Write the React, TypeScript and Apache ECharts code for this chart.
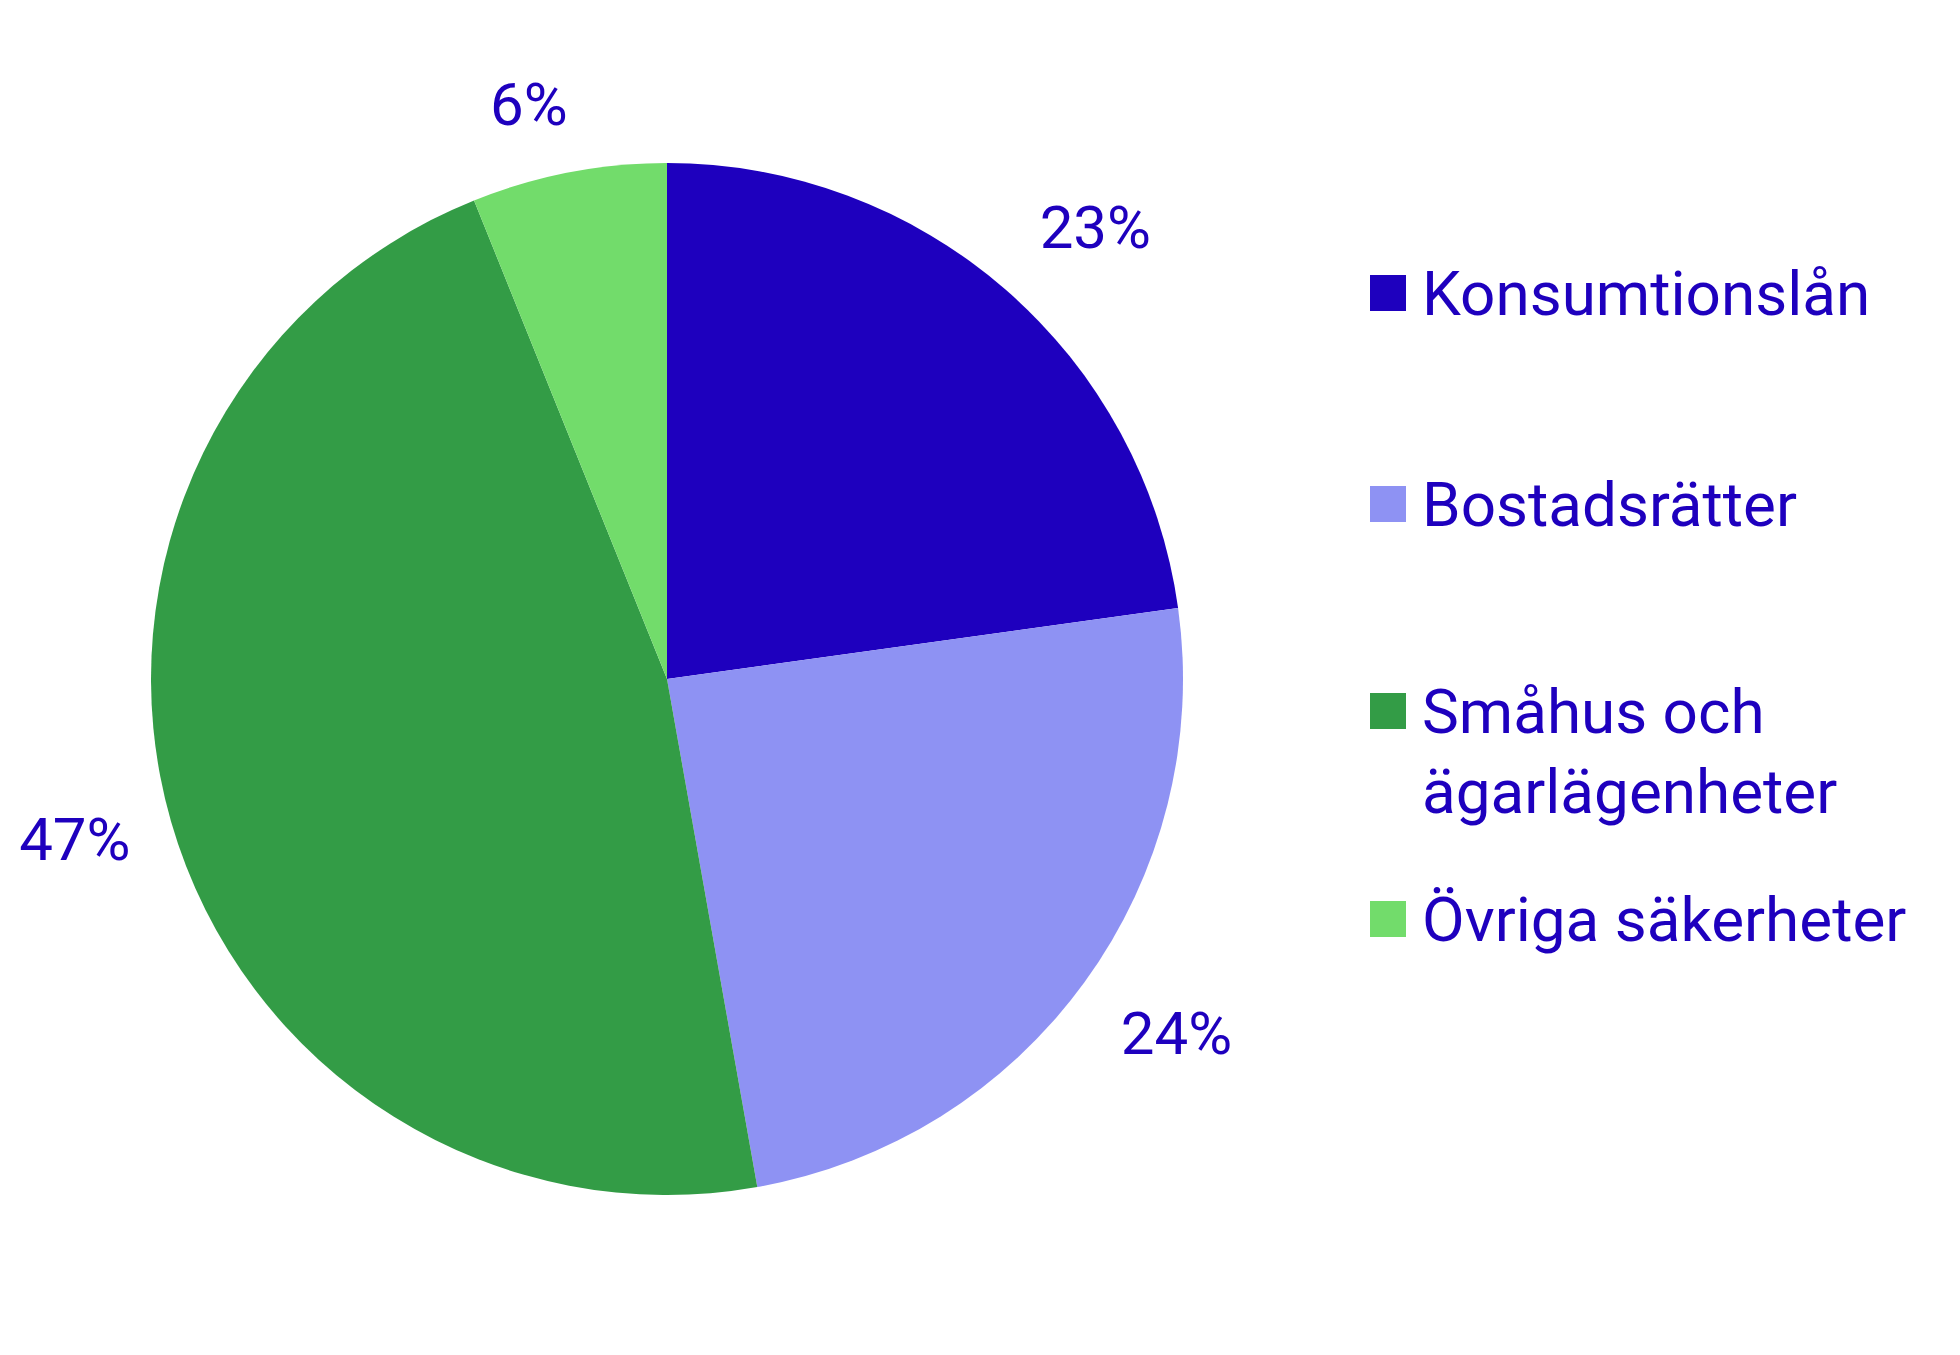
import React, { useEffect, useRef } from "react";
import * as echarts from "echarts";

const categories = ["Konsumtionslån", "Bostadsrätter", "Småhus och ägarlägenheter", "Övriga säkerheter"];
const values = [22.8, 24.4, 46.7, 6.1];
const colors = ["#1E00BE", "#8E92F3", "#339C46", "#72DC6B"];
const legendNames = ["Konsumtionslån", "Bostadsrätter", "\nSmåhus och\nägarlägenheter", "Övriga säkerheter"];

const TEXT = "#1E00BE";
const FONT = "Roboto";
const labelLen = [82, 87, 64, 69];
const labelLen2 = [-25, -39, -26, -17];
const legendTops = [253, 464, 591, 879];

export default function App() {
  const ref = useRef<HTMLDivElement>(null);
  useEffect(() => {
    if (!ref.current) return;
    const chart = echarts.init(ref.current, null, { renderer: "svg" });
    const data = categories.map((name, i) => ({
      name,
      value: values[i],
      itemStyle: { color: colors[i] },
      labelLine: { show: false, length: labelLen[i], length2: labelLen2[i] },
    }));
    const legends = categories.map((name, i) => ({
      data: [name],
      orient: "vertical",
      left: 1370,
      top: legendTops[i],
      padding: 0,
      itemWidth: 36,
      itemHeight: 36,
      icon: "rect",
      selectedMode: false,
      formatter: () => legendNames[i],
      textStyle: {
        color: TEXT,
        fontFamily: FONT,
        fontSize: 62,
        lineHeight: 80,
        padding: [0, 0, 0, 11],
      },
    }));
    chart.setOption({
      animation: false,
      backgroundColor: "#ffffff",
      legend: legends,
      series: [
        {
          type: "pie",
          center: [667, 679],
          radius: 516,
          startAngle: 90,
          clockwise: true,
          avoidLabelOverlap: false,
          label: {
            show: true,
            position: "outside",
            formatter: (p: any) => Math.round(p.value) + "%",
            color: TEXT,
            fontFamily: FONT,
            fontSize: 60,
          },
          labelLine: { show: false },
          emphasis: { disabled: true },
          data,
        },
      ],
    });
    return () => chart.dispose();
  }, []);
  return <div ref={ref} style={{ position: "fixed", left: 0, top: 0, width: 1960, height: 1355 }} />;
}
